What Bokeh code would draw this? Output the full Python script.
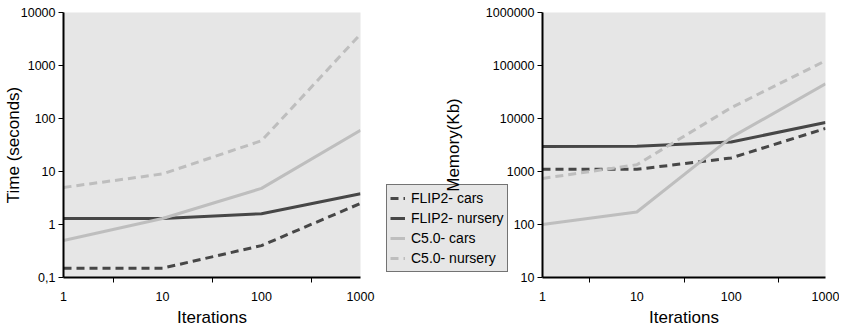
from bokeh.plotting import figure
from bokeh.models import Range1d, FixedTicker, Legend, LegendItem
from bokeh.layouts import row
from bokeh.embed import file_html
from bokeh.resources import INLINE

iterations = [1, 10, 100, 1000]
x_tick_labels = ["1", "10", "100", "1000"]

time_flip2_cars = [0.15, 0.15, 0.4, 2.5]
time_flip2_nursery = [1.3, 1.3, 1.6, 3.8]
time_c50_cars = [0.5, 1.3, 4.8, 60]
time_c50_nursery = [5, 9, 38, 3900]

mem_flip2_cars = [1100, 1100, 1800, 6500]
mem_flip2_nursery = [2950, 3000, 3600, 8400]
mem_c50_cars = [100, 172, 4400, 45000]
mem_c50_nursery = [740, 1340, 16000, 123000]

series_names = ["FLIP2- cars", "FLIP2- nursery", "C5.0- cars", "C5.0- nursery"]

time_ticks = [0.1, 1, 10, 100, 1000, 10000]
time_tick_labels = ["0,1", "1", "10", "100", "1000", "10000"]
mem_ticks = [10, 100, 1000, 10000, 100000, 1000000]
mem_tick_labels = ["10", "100", "1000", "10000", "100000", "1000000"]

DARK = "#474747"
LIGHT = "#bebebe"
BG = "#e6e6e6"
FONT = "Liberation Sans"
styles = [(DARK, "8 5"), (DARK, "solid"), (LIGHT, "solid"), (LIGHT, "8 5")]


def make_fig(width, border_left, border_right, y_range, y_ticks, y_labels, y_title, title_standoff):
    p = figure(width=width, height=329, x_axis_type="log", y_axis_type="log",
               x_range=Range1d(1, 1000), y_range=Range1d(*y_range),
               output_backend="svg", toolbar_location=None,
               min_border_left=border_left, min_border_right=border_right,
               min_border_top=12, min_border_bottom=52)
    p.background_fill_color = BG
    p.outline_line_color = None
    p.xgrid.visible = False
    p.ygrid.visible = False

    xs = [(i * j) ** 0.5 for i, j in zip(iterations[:-1], iterations[1:])]
    p.xaxis.ticker = FixedTicker(ticks=iterations, minor_ticks=xs)
    p.xaxis.major_label_overrides = {float(t): l for t, l in zip(iterations, x_tick_labels)}
    p.xaxis.major_tick_line_color = None
    p.xaxis.major_tick_out = 0
    p.xaxis.major_tick_in = 0
    p.xaxis.minor_tick_out = 5
    p.xaxis.minor_tick_in = 0
    p.xaxis.minor_tick_line_color = "black"
    p.xaxis.major_label_standoff = 9
    p.xaxis.axis_label = "Iterations"
    p.xaxis.axis_label_standoff = 4

    p.yaxis.ticker = FixedTicker(ticks=y_ticks, minor_ticks=[])
    p.yaxis.major_label_overrides = {float(t): l for t, l in zip(y_ticks, y_labels)}
    p.yaxis.major_tick_out = 5
    p.yaxis.major_tick_in = 0
    p.yaxis.major_tick_line_color = "black"
    p.yaxis.minor_tick_line_color = None
    p.yaxis.major_label_standoff = 3
    p.yaxis.axis_label = y_title
    p.yaxis.axis_label_standoff = title_standoff

    for ax in (p.xaxis[0], p.yaxis[0]):
        ax.axis_line_color = "black"
        ax.axis_line_width = 2
        ax.major_label_text_font = FONT
        ax.major_label_text_font_size = "12.5px"
        ax.major_label_text_color = "black"
        ax.axis_label_text_font = FONT
        ax.axis_label_text_font_size = "17px"
        ax.axis_label_text_font_style = "normal"
        ax.axis_label_text_color = "black"
    return p


p1 = make_fig(385, 61, 25, (0.1, 10000), time_ticks, time_tick_labels, "Time (seconds)", -5)
p2 = make_fig(456, 159, 14, (10, 1000000), mem_ticks, mem_tick_labels, "Memory(Kb)", 20)
p2.border_fill_alpha = 0
p2.styles = {"position": "absolute", "left": "383px", "top": "0px"}

for ys, (c, d) in zip([time_flip2_cars, time_flip2_nursery, time_c50_cars, time_c50_nursery], styles):
    p1.line(iterations, ys, line_color=c, line_width=3, line_dash=d)
for ys, (c, d) in zip([mem_flip2_cars, mem_flip2_nursery, mem_c50_cars, mem_c50_nursery], styles):
    p2.line(iterations, ys, line_color=c, line_width=3, line_dash=d)

# legend-only canvas between the two panels (its data lie outside its ranges)
p3 = figure(width=124, height=329, x_axis_location=None, y_axis_location=None,
            x_range=Range1d(5000, 6000), y_range=Range1d(5000, 6000),
            output_backend="svg", toolbar_location=None, min_border=0)
p3.outline_line_color = None
p3.background_fill_alpha = 0
p3.border_fill_alpha = 0
p3.xgrid.visible = False
p3.ygrid.visible = False
r3 = []
for ys, (c, d) in zip([time_flip2_cars, time_flip2_nursery, time_c50_cars, time_c50_nursery], styles):
    r3.append(p3.line(iterations, ys, line_color=c, line_width=3, line_dash=d))

legend = Legend(items=[LegendItem(label=n, renderers=[r]) for n, r in zip(series_names, r3)],
                location=(1, 5))
legend.background_fill_color = BG
legend.background_fill_alpha = 1
legend.border_line_color = "black"
legend.border_line_width = 1
legend.label_text_font = FONT
legend.label_text_font_size = "14px"
legend.label_text_color = "black"
legend.label_height = 20
legend.glyph_height = 20
legend.glyph_width = 15
legend.label_standoff = 6
legend.padding = 3
legend.spacing = 0
legend.margin = 0
p3.add_layout(legend, "center")

layout = row(p1, p3, p2)
open("out.html", "w").write(file_html(layout, INLINE))
